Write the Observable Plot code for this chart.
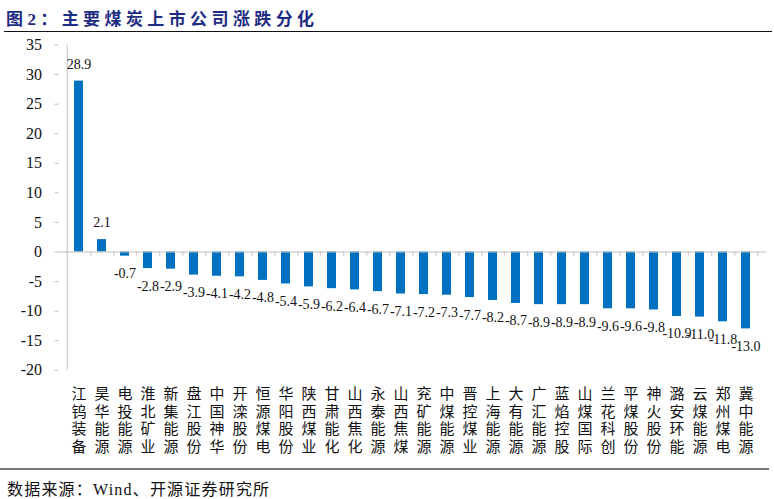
<!DOCTYPE html>
<html><head><meta charset="utf-8">
<script src="https://cdn.jsdelivr.net/npm/d3@7"></script>
<script src="https://cdn.jsdelivr.net/npm/@observablehq/plot@0.6"></script>
<style>
html,body{margin:0;padding:0;background:#fff;}
#wrap{position:relative;width:774px;height:499px;overflow:hidden;}
#title{position:absolute;left:6px;top:5px;font-family:'Liberation Serif','Times New Roman','DejaVu Serif','Noto Sans CJK SC',serif;font-weight:bold;font-size:17px;letter-spacing:4.4px;color:#1f2c83;white-space:nowrap;}
#topline{position:absolute;left:4px;top:31px;width:768px;height:0;border-top:1.5px solid #111;}
#chart{position:absolute;left:0;top:35px;}
#botline{position:absolute;left:0;top:468px;width:769px;height:0;border-top:2px solid #777;}
#source{position:absolute;left:7px;top:476px;font-family:'Liberation Serif','Times New Roman','Noto Sans CJK SC',serif;font-size:16px;letter-spacing:1.2px;color:#111;white-space:nowrap;}
</style></head>
<body><div id="wrap">
<div id="title">图2：主要煤炭上市公司涨跌分化</div>
<div id="topline"></div>
<div id="chart"></div>
<div id="botline"></div>
<div id="source">数据来源：Wind、开源证券研究所</div>
</div>
<script>
const companies = ["江钨装备","昊华能源","电投能源","淮北矿业","新集能源","盘江股份","中国神华","开滦股份","恒源煤电","华阳股份","陕西煤业","甘肃能化","山西焦化","永泰能源","山西焦煤","兖矿能源","中煤能源","晋控煤业","上海能源","大有能源","广汇能源","蓝焰控股","山煤国际","兰花科创","平煤股份","神火股份","潞安环能","云煤能源","郑州煤电","冀中能源"];
const changes = [28.9,2.1,-0.7,-2.8,-2.9,-3.9,-4.1,-4.2,-4.8,-5.4,-5.9,-6.2,-6.4,-6.7,-7.1,-7.2,-7.3,-7.7,-8.2,-8.7,-8.9,-8.9,-8.9,-9.6,-9.6,-9.8,-10.9,-11.0,-11.8,-13.0];
const yTicks = [35,30,25,20,15,10,5,0,-5,-10,-15,-20];

const data = companies.map((c,i)=>({name:c, v:changes[i]}));
const pos = data.filter(d=>d.v >= 0);
const neg = data.filter(d=>d.v < 0);
const serif = "'Liberation Serif', 'Times New Roman', 'DejaVu Serif', serif";
const cjk = "'Noto Sans CJK SC', sans-serif";
const W = 774, H = 430;
const mL = 58.5, mR = 7.5;
const step = (W - mL - mR) / (companies.length - 0.6 + 0.6);

const chart = Plot.plot({
  width: W, height: H,
  marginTop: 9.5, marginBottom: 95.2, marginLeft: mL, marginRight: mR,
  style: {background: "#fff", fontFamily: serif},
  x: {domain: companies, paddingInner: 0.6, paddingOuter: 0.3, axis: null, label: null},
  y: {domain: [-20, 35], axis: null, label: null},
  marks: [
    Plot.barY(data, {x: "name", y: "v", fill: "#0070c0"}),
    Plot.ruleY([0], {stroke: "#bfbfbf", strokeWidth: 1}),
    Plot.ruleX([companies[0]], {y1: -20, y2: 35, dx: -step/2, stroke: "#bfbfbf"}),
    Plot.ruleX(companies, {x: d=>d, y1: 0, y2: -0.7, dx: step/2, stroke: "#bfbfbf"}),
    Plot.axisY({ticks: yTicks, tickSize: 4, tickPadding: 13, stroke: "#bfbfbf", fontSize: 16, fill: "#111",
      fontFamily: serif, tickFormat: d=>String(d), label: null}),
    Plot.axisX({anchor: "bottom", tickSize: 0, tickPadding: 16, fontSize: 15, lineHeight: 1.18, fill: "#111", label: null,
      fontFamily: cjk, tickFormat: d => [...d].join("\n")}),
    Plot.text(pos, {x: "name", y: "v", text: d=>d.v.toFixed(1), dy: -17, fontSize: 14, fill: "#111", fontFamily: serif, lineAnchor: "middle"}),
    Plot.text(neg, {x: "name", y: "v", text: d=>d.v.toFixed(1), dy: 17.5, fontSize: 14, fill: "#111", fontFamily: serif, lineAnchor: "middle"})
  ]
});
document.getElementById("chart").appendChild(chart);
</script>
</body></html>
